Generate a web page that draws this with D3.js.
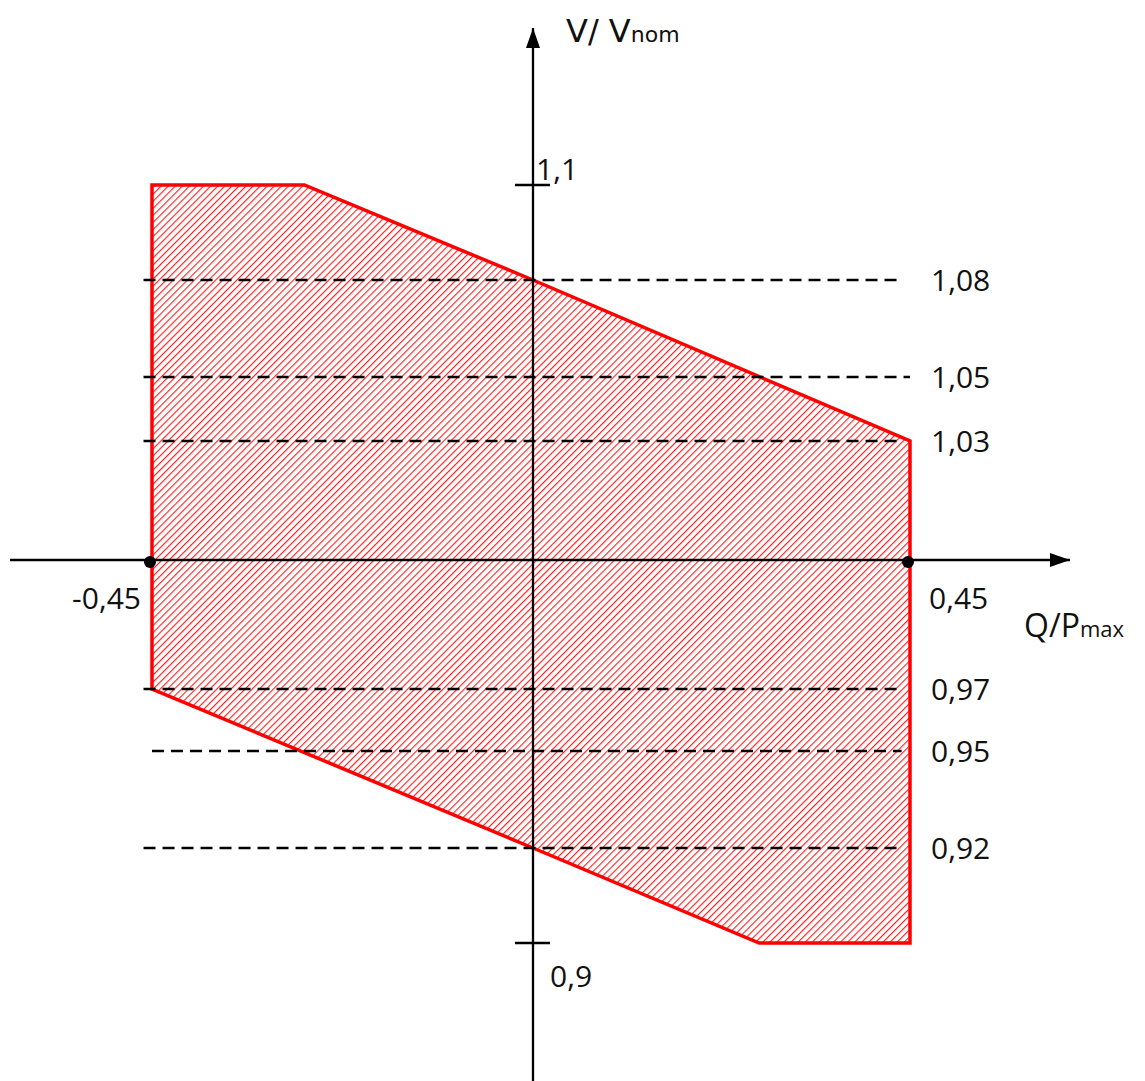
<!DOCTYPE html>
<html><head><meta charset="utf-8">
<script src="https://cdn.jsdelivr.net/npm/d3@7"></script>
<style>body{margin:0;background:#fff}svg{display:block}</style>
</head><body>
<script>
// ---- data ----
const vTicks = [0.9, 0.92, 0.95, 0.97, 1.0, 1.03, 1.05, 1.08, 1.1];
const vTickPix = [943, 848, 751, 689, 560, 441, 377, 280, 185]; // schematic (non-linear) axis layout
const qTicks = [-0.45, 0, 0.45];
const qTickPix = [152, 533, 910];
const regionQ = [-0.45, -0.27, 0, 0.45, 0.45, 0.27, 0, -0.45];
const regionV = [1.1, 1.1, 1.08, 1.03, 0.9, 0.9, 0.92, 0.97];
const dashV = [1.08, 1.05, 1.03, 0.97, 0.95, 0.92];
const dashQ0 = [-0.46, -0.46, -0.46, -0.46, -0.45, -0.46];
const dashQ1 = [0.44, 0.45, 0.44, 0.44, 0.44, 0.44];
const dashLabels = ["1,08", "1,05", "1,03", "0,97", "0,95", "0,92"];
const qPoints = [-0.45, 0.45];
const qLabels = ["-0,45", "0,45"];
const vAxisTicks = [1.1, 0.9];
const vAxisLabels = ["1,1", "0,9"];

const W = 1145, H = 1081;
const svg = d3.select("body").append("svg").attr("width", W).attr("height", H);

const x = d3.scaleLinear().domain(qTicks).range(qTickPix);
const y = d3.scaleLinear().domain(vTicks).range(vTickPix);

const defs = svg.append("defs");
const pat = defs.append("pattern").attr("id", "hatch").attr("patternUnits", "userSpaceOnUse")
  .attr("width", 5).attr("height", 5).attr("patternTransform", "rotate(45)");
pat.append("rect").attr("width", 5).attr("height", 5).attr("fill", "#fff");
pat.append("line").attr("x1", 0).attr("y1", 0).attr("x2", 0).attr("y2", 5)
  .attr("stroke", "#f22").attr("stroke-width", 2.3);

defs.append("marker").attr("id", "arr").attr("viewBox", "0 0 20 14")
  .attr("refX", 20).attr("refY", 7).attr("markerWidth", 20).attr("markerHeight", 14)
  .attr("markerUnits", "userSpaceOnUse").attr("orient", "auto")
  .append("path").attr("d", "M0,0L20,7L0,14Z").attr("fill", "#000");

// region
const pts = regionQ.map((q, i) => [x(q), y(regionV[i])]);
svg.append("path").attr("d", d3.line()(pts) + "Z")
  .attr("fill", "url(#hatch)").attr("stroke", "#f00").attr("stroke-width", 3.5)
  .attr("stroke-linejoin", "miter");

// dashed lines
svg.append("g").selectAll("line").data(dashV).join("line")
  .attr("x1", (d, i) => x(dashQ0[i])).attr("x2", (d, i) => x(dashQ1[i]))
  .attr("y1", d => y(d)).attr("y2", d => y(d))
  .attr("stroke", "#000").attr("stroke-width", 2.3).attr("stroke-dasharray", "12,7");

const font = "'Open Sans', sans-serif";
const fs = 30;
svg.append("g").selectAll("text").data(dashLabels).join("text")
  .attr("x", 931).attr("y", (d, i) => y(dashV[i]))
  .attr("dy", "0.35em").attr("font-family", font).attr("font-size", fs).attr("fill", "#111")
  .text(d => d);

// axes
svg.append("line").attr("x1", 10).attr("x2", 1070).attr("y1", y(1.0)).attr("y2", y(1.0))
  .attr("stroke", "#000").attr("stroke-width", 2.3).attr("marker-end", "url(#arr)");
svg.append("line").attr("x1", x(0)).attr("x2", x(0)).attr("y1", H).attr("y2", 28)
  .attr("stroke", "#000").attr("stroke-width", 2.3).attr("marker-end", "url(#arr)");

// V ticks
svg.append("g").selectAll("line").data(vAxisTicks).join("line")
  .attr("x1", x(0) - 18).attr("x2", x(0) + 17).attr("y1", d => y(d)).attr("y2", d => y(d))
  .attr("stroke", "#000").attr("stroke-width", 2.3);
svg.append("text").attr("x", x(0) + 3).attr("y", y(vAxisTicks[0]) - 5)
  .attr("font-family", font).attr("font-size", fs).attr("fill", "#111").text(vAxisLabels[0]);
svg.append("text").attr("x", x(0) + 17).attr("y", y(vAxisTicks[1]) + 44)
  .attr("font-family", font).attr("font-size", fs).attr("fill", "#111").text(vAxisLabels[1]);

// Q points
svg.append("g").selectAll("circle").data(qPoints).join("circle")
  .attr("cx", d => x(d) - 2).attr("cy", y(1.0) + 2).attr("r", 6).attr("fill", "#000");
svg.append("text").attr("x", x(qPoints[0]) - 11).attr("y", y(1.0) + 49).attr("text-anchor", "end")
  .attr("font-family", font).attr("font-size", fs).attr("fill", "#111").text(qLabels[0]);
svg.append("text").attr("x", x(qPoints[1]) + 19).attr("y", y(1.0) + 49)
  .attr("font-family", font).attr("font-size", fs).attr("fill", "#111").text(qLabels[1]);

// axis titles
const tq = svg.append("text").attr("x", 1024).attr("y", 637)
  .attr("font-family", font).attr("font-size", 32).attr("fill", "#111");
tq.append("tspan").text("Q/P");
tq.append("tspan").attr("font-size", 22).text("max");
const tv = svg.append("text").attr("x", 566).attr("y", 42)
  .attr("font-family", "'DejaVu Sans', sans-serif").attr("font-size", 32).attr("fill", "#111");
tv.append("tspan").text("V/ V");
tv.append("tspan").attr("font-size", 22).text("nom");
</script>
</body></html>
